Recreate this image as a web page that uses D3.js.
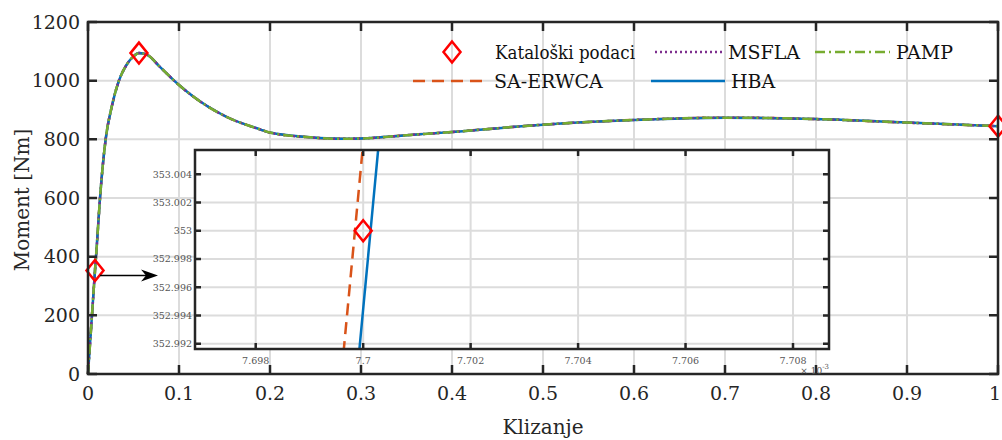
<!DOCTYPE html>
<html>
<head>
<meta charset="utf-8">
<script src="https://cdn.jsdelivr.net/npm/d3@7"></script>
<style>
  body { margin: 0; background: #fff; }
</style>
</head>
<body>
<div class="chart"></div>
<script>
// values
var slip   = [0, 0.002, 0.0036, 0.0055, 0.0077, 0.0095, 0.0132, 0.0194, 0.026, 0.034, 0.042, 0.05, 0.056, 0.065, 0.079, 0.1, 0.116, 0.152, 0.189, 0.2, 0.244, 0.277, 0.3, 0.354, 0.4, 0.5, 0.6, 0.7, 0.8, 0.9, 1];
var moment = [0, 92, 165, 252, 353, 430, 600, 800, 910, 1000, 1052, 1083, 1094, 1088, 1047, 985, 945, 877, 834, 823, 807, 802, 803, 815, 825, 850, 866, 874, 869, 857, 845];

var katSlip   = [0.0077, 0.056, 1];
var katMoment = [353, 1094, 845];

// zoom window (slip in 1e-3)
var saZoomX  = [7.6996, 7.70002];
var saZoomY  = [352.990, 353.007];
var hbaZoomX = [7.69989, 7.70031];
var hbaZoomY = [352.990, 353.007];
var katZoomX = [7.7];
var katZoomY = [353];

var xTicks = [0, 0.1, 0.2, 0.3, 0.4, 0.5, 0.6, 0.7, 0.8, 0.9, 1];
var xTickLabels = ["0", "0.1", "0.2", "0.3", "0.4", "0.5", "0.6", "0.7", "0.8", "0.9", "1"];
var yTicks = [0, 200, 400, 600, 800, 1000, 1200];
var zxTicks = [7.698, 7.7, 7.702, 7.704, 7.706, 7.708];
var zxTickLabels = ["7.698", "7.7", "7.702", "7.704", "7.706", "7.708"];
var zyTicks = [352.992, 352.994, 352.996, 352.998, 353, 353.002, 353.004];
var zyTickLabels = ["352.992", "352.994", "352.996", "352.998", "353", "353.002", "353.004"];

var series = [
  {name: "SA-ERWCA", color: "#D95319", dash: "12,7"},
  {name: "HBA",      color: "#0072BD", dash: null},
  {name: "MSFLA",    color: "#7E2F8E", dash: "2,3"},
  {name: "PAMP",     color: "#77AC30", dash: "10,4,2,4"}
];

var width = 1002, height = 440;
var svg = d3.select(".chart").append("svg")
    .attr("width", width).attr("height", height)
    .style("font-family", "'DejaVu Serif'");

var x = d3.scaleLinear().domain([0, 1]).range([88, 998]);
var y = d3.scaleLinear().domain([0, 1200]).range([374, 22]);

var gridColor = "#dcdcdc", axisColor = "#262626";

// grid
svg.append("g").selectAll("line").data(xTicks.slice(1, -1)).enter().append("line")
    .attr("x1", d => x(d)).attr("x2", d => x(d)).attr("y1", y(0)).attr("y2", y(1200))
    .attr("stroke", gridColor).attr("stroke-width", 2);
svg.append("g").selectAll("line").data(yTicks.slice(1, -1)).enter().append("line")
    .attr("x1", x(0)).attr("x2", x(1)).attr("y1", d => y(d)).attr("y2", d => y(d))
    .attr("stroke", gridColor).attr("stroke-width", 2);

// curves
var line = d3.line().x((d, i) => x(slip[i])).y(d => y(d)).curve(d3.curveMonotoneX);
series.forEach(function(s) {
  svg.append("path").datum(moment)
      .attr("d", line).attr("fill", "none")
      .attr("stroke", s.color).attr("stroke-width", 2.5)
      .attr("stroke-dasharray", s.dash);
});

function diamond(g, cx, cy) {
  g.append("path")
    .attr("d", "M" + cx + "," + (cy - 10.5) + "L" + (cx + 8.5) + "," + cy + "L" + cx + "," + (cy + 10.5) + "L" + (cx - 8.5) + "," + cy + "Z")
    .attr("fill", "none").attr("stroke", "#ff0000").attr("stroke-width", 2.5);
}
katSlip.forEach(function(s, i) { diamond(svg, x(s), y(katMoment[i])); });

// axes box + ticks
function box(g, sx, sy, xt, yt, len, sw) {
  var x0 = sx.range()[0], x1 = sx.range()[1], y0 = sy.range()[0], y1 = sy.range()[1];
  g.append("g").selectAll("path").data(xt).enter().append("path")
    .attr("d", d => "M" + sx(d) + "," + y0 + "v" + (-len) + "M" + sx(d) + "," + y1 + "v" + len)
    .attr("stroke", axisColor).attr("stroke-width", sw);
  g.append("g").selectAll("path").data(yt).enter().append("path")
    .attr("d", d => "M" + x0 + "," + sy(d) + "h" + len + "M" + x1 + "," + sy(d) + "h" + (-len))
    .attr("stroke", axisColor).attr("stroke-width", sw);
  g.append("rect").attr("x", x0).attr("y", y1).attr("width", x1 - x0).attr("height", y0 - y1)
    .attr("fill", "none").attr("stroke", axisColor).attr("stroke-width", sw);
}
box(svg, x, y, xTicks, yTicks, 9, 2.5);

svg.append("g").selectAll("text").data(xTicks).enter().append("text")
    .attr("x", d => x(d)).attr("dx", (d, i) => i === xTicks.length - 1 ? -3 : 0)
    .attr("y", 400).attr("text-anchor", "middle")
    .attr("font-size", 19).attr("fill", axisColor)
    .text((d, i) => xTickLabels[i]);
svg.append("g").selectAll("text").data(yTicks).enter().append("text")
    .attr("x", 80).attr("y", d => y(d)).attr("dy", "0.35em").attr("text-anchor", "end")
    .attr("font-size", 19).attr("fill", axisColor)
    .text(d => d);

svg.append("text").attr("x", 543).attr("y", 434).attr("text-anchor", "middle")
    .attr("font-size", 20).attr("fill", axisColor).text("Klizanje");
svg.append("text").attr("transform", "translate(29,200) rotate(-90)")
    .attr("text-anchor", "middle").attr("font-size", 20).attr("fill", axisColor)
    .text("Moment [Nm]");

// legend
var lg = svg.append("g").attr("font-size", 19).attr("fill", "#111");
diamond(lg, 452, 52);
lg.append("text").attr("x", 495).attr("y", 52).attr("dy", "0.35em")
    .attr("textLength", 140).attr("lengthAdjust", "spacingAndGlyphs")
    .text("Kataloški podaci");
var legendPos = {
  "MSFLA":    [655, 722, 52],
  "PAMP":     [815, 890, 52],
  "SA-ERWCA": [413, 488, 81],
  "HBA":      [651, 725, 81]
};
series.forEach(function(s) {
  var p = legendPos[s.name];
  lg.append("line").attr("x1", p[0]).attr("x2", p[1]).attr("y1", p[2]).attr("y2", p[2])
    .attr("stroke", s.color).attr("stroke-width", 2.5).attr("stroke-dasharray", s.dash);
  lg.append("text").attr("x", p[1] + 6).attr("y", p[2]).attr("dy", "0.35em").text(s.name);
});

// arrow pointing to the zoom
svg.append("line").attr("x1", 100).attr("x2", 150).attr("y1", 275.5).attr("y2", 275.5)
    .attr("stroke", "#000").attr("stroke-width", 1.3);
svg.append("path").attr("d", "M158,275.5 L141,269.5 L146,275.5 L141,281.5 Z").attr("fill", "#000");

// inset
var zx = d3.scaleLinear().domain([7.69687, 7.70867]).range([195, 829]);
var zy = d3.scaleLinear().domain([352.99163, 353.00572]).range([349, 150]);
var ins = svg.append("g");
ins.append("rect").attr("x", 195).attr("y", 150).attr("width", 634).attr("height", 199).attr("fill", "#fff");
ins.append("clipPath").attr("id", "zclip").append("rect")
    .attr("x", 195).attr("y", 150).attr("width", 634).attr("height", 199);
ins.append("g").selectAll("line").data(zxTicks).enter().append("line")
    .attr("x1", d => zx(d)).attr("x2", d => zx(d)).attr("y1", 150).attr("y2", 349)
    .attr("stroke", gridColor).attr("stroke-width", 2);
ins.append("g").selectAll("line").data(zyTicks).enter().append("line")
    .attr("x1", 195).attr("x2", 829).attr("y1", d => zy(d)).attr("y2", d => zy(d))
    .attr("stroke", gridColor).attr("stroke-width", 2);

var zc = ins.append("g").attr("clip-path", "url(#zclip)");
var zline = d3.line().x(d => zx(d[0])).y(d => zy(d[1]));
zc.append("path").datum(d3.zip(saZoomX, saZoomY)).attr("d", zline)
    .attr("fill", "none").attr("stroke", series[0].color).attr("stroke-width", 2.5)
    .attr("stroke-dasharray", series[0].dash);
zc.append("path").datum(d3.zip(hbaZoomX, hbaZoomY)).attr("d", zline)
    .attr("fill", "none").attr("stroke", series[1].color).attr("stroke-width", 2.5);
katZoomX.forEach(function(v, i) { diamond(ins, zx(v), zy(katZoomY[i])); });

box(ins, zx, zy, zxTicks, zyTicks, 6, 2.5);
ins.append("g").selectAll("text").data(zxTicks).enter().append("text")
    .attr("x", d => zx(d)).attr("y", 364).attr("text-anchor", "middle")
    .attr("font-size", 9.5).attr("fill", "#555")
    .text((d, i) => zxTickLabels[i]);
ins.append("g").selectAll("text").data(zyTicks).enter().append("text")
    .attr("x", 192).attr("y", d => zy(d)).attr("dy", "0.35em").attr("text-anchor", "end")
    .attr("font-size", 9.5).attr("fill", "#555")
    .text((d, i) => zyTickLabels[i]);
var ex = ins.append("text").attr("x", 829).attr("y", 374).attr("text-anchor", "end")
    .attr("font-size", 9).attr("fill", "#555");
ex.append("tspan").text("\u00d7 10");
ex.append("tspan").attr("dy", -5).attr("font-size", 7).text("-3");
</script>
</body>
</html>
